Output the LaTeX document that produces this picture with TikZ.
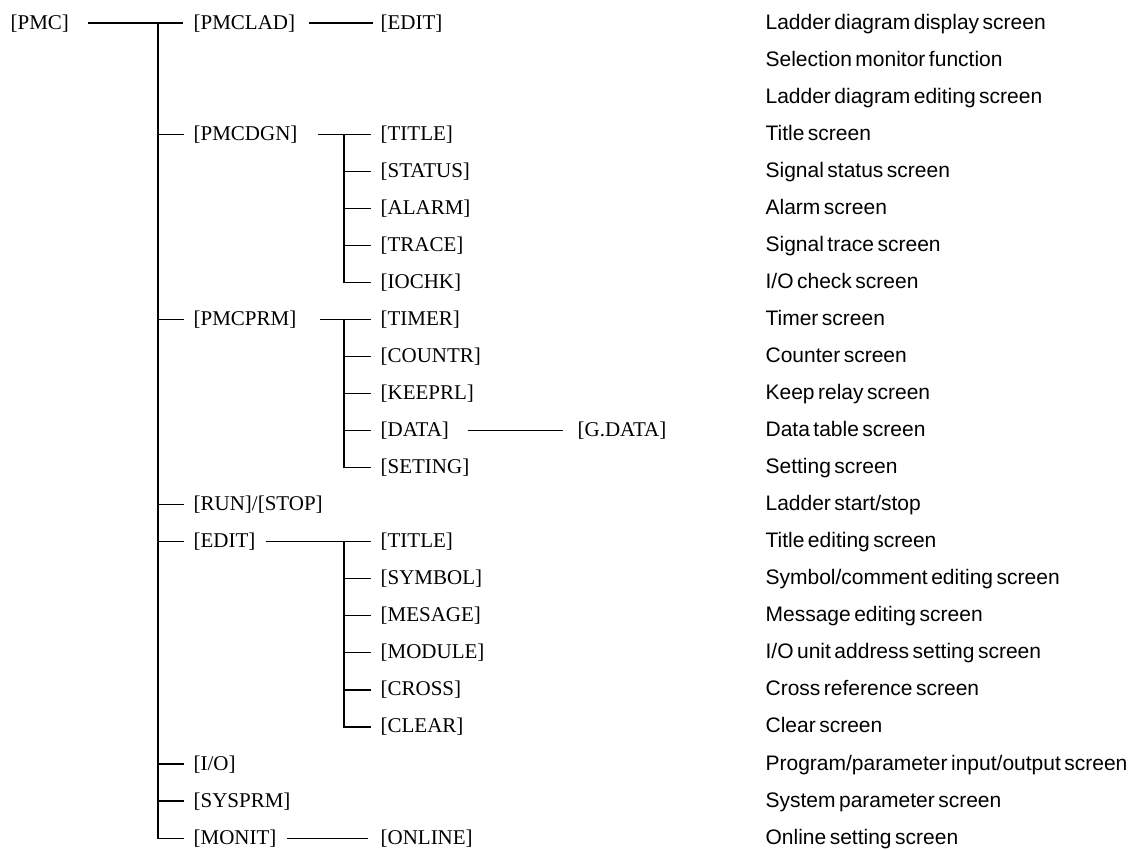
\documentclass[tikz,border=0pt]{standalone}
\usepackage{fontspec}
\setmainfont{Liberation Serif}
\setsansfont[WordSpace=0.6]{Liberation Sans}

\begin{document}
\begin{tikzpicture}[x=0.5pt, y=-18.525pt, line width=0.6pt,
    key/.style={anchor=west, inner sep=0pt, font=\fontsize{10.5}{12}\selectfont,
      text height=8.5pt, text depth=2.5pt},
    desc/.style={anchor=west, inner sep=0pt, font=\sffamily\fontsize{10.5}{12}\selectfont,
      text height=8.5pt, text depth=2.5pt},
    twig/.style={shorten >=4.5pt}]
    \useasboundingbox (0,-0.621) rectangle (1139,22.321);

    % soft keys
    \node[key] (pmc) at (10,0) {[PMC]};
    \node[key] (pmclad) at (193,0) {[PMCLAD]};
    \node[key] (ladedit) at (380,0) {[EDIT]};
    \node[key] (pmcdgn) at (193,3) {[PMCDGN]};
    \node[key] (dgntitle) at (380,3) {[TITLE]};
    \node[key] (status) at (380,4) {[STATUS]};
    \node[key] (alarm) at (380,5) {[ALARM]};
    \node[key] (trace) at (380,6) {[TRACE]};
    \node[key] (iochk) at (380,7) {[IOCHK]};
    \node[key] (pmcprm) at (193,8) {[PMCPRM]};
    \node[key] (timer) at (380,8) {[TIMER]};
    \node[key] (countr) at (380,9) {[COUNTR]};
    \node[key] (keeprl) at (380,10) {[KEEPRL]};
    \node[key] (data) at (380,11) {[DATA]};
    \node[key] (gdata) at (577,11) {[G.DATA]};
    \node[key] (seting) at (380,12) {[SETING]};
    \node[key] (runstop) at (193,13) {[RUN]/[STOP]};
    \node[key] (edit) at (193,14) {[EDIT]};
    \node[key] (edittitle) at (380,14) {[TITLE]};
    \node[key] (symbol) at (380,15) {[SYMBOL]};
    \node[key] (mesage) at (380,16) {[MESAGE]};
    \node[key] (module) at (380,17) {[MODULE]};
    \node[key] (cross) at (380,18) {[CROSS]};
    \node[key] (clear) at (380,19) {[CLEAR]};
    \node[key] (io) at (193,20) {[I/O]};
    \node[key] (sysprm) at (193,21) {[SYSPRM]};
    \node[key] (monit) at (193,22) {[MONIT]};
    \node[key] (online) at (380,22) {[ONLINE]};

    % screens
    \node[desc] (d0) at (765,0) {Ladder diagram display screen};
    \node[desc] (d1) at (765,1) {Selection monitor function};
    \node[desc] (d2) at (765,2) {Ladder diagram editing screen};
    \node[desc] (d3) at (765,3) {Title screen};
    \node[desc] (d4) at (765,4) {Signal status screen};
    \node[desc] (d5) at (765,5) {Alarm screen};
    \node[desc] (d6) at (765,6) {Signal trace screen};
    \node[desc] (d7) at (765,7) {I/O check screen};
    \node[desc] (d8) at (765,8) {Timer screen};
    \node[desc] (d9) at (765,9) {Counter screen};
    \node[desc] (d10) at (765,10) {Keep relay screen};
    \node[desc] (d11) at (765,11) {Data table screen};
    \node[desc] (d12) at (765,12) {Setting screen};
    \node[desc] (d13) at (765,13) {Ladder start/stop};
    \node[desc] (d14) at (765,14) {Title editing screen};
    \node[desc] (d15) at (765,15) {Symbol/comment editing screen};
    \node[desc] (d16) at (765,16) {Message editing screen};
    \node[desc] (d17) at (765,17) {I/O unit address setting screen};
    \node[desc] (d18) at (765,18) {Cross reference screen};
    \node[desc] (d19) at (765,19) {Clear screen};
    \node[desc] (d20) at (765,20) {Program/parameter input/output screen};
    \node[desc] (d21) at (765,21) {System parameter screen};
    \node[desc] (d22) at (765,22) {Online setting screen};

    % main trunk
    \coordinate (j0) at (158,0);
    \draw[shorten <=9pt, shorten >=5pt] (pmc) -- (pmclad);
    \draw[shorten <=6.5pt, shorten >=3.5pt] (pmclad) -- (ladedit);
    \draw[twig] (j0) |- (monit);
    \draw[twig] (j0 |- pmcdgn) -- (pmcdgn);
    \draw[twig] (j0 |- pmcprm) -- (pmcprm);
    \draw[twig] (j0 |- runstop) -- (runstop);
    \draw[twig] (j0 |- edit) -- (edit);
    \draw[twig] (j0 |- io) -- (io);
    \draw[twig] (j0 |- sysprm) -- (sysprm);

    % PMCDGN
    \coordinate (j1) at (344,3);
    \draw[shorten <=10pt, twig] (pmcdgn) -- (dgntitle);
    \draw[twig] (j1) |- (iochk);
    \draw[twig] (j1 |- status) -- (status);
    \draw[twig] (j1 |- alarm) -- (alarm);
    \draw[twig] (j1 |- trace) -- (trace);

    % PMCPRM
    \coordinate (j2) at (344,8);
    \draw[shorten <=11.5pt, twig] (pmcprm) -- (timer);
    \draw[twig] (j2) |- (seting);
    \draw[twig] (j2 |- countr) -- (countr);
    \draw[twig] (j2 |- keeprl) -- (keeprl);
    \draw[twig] (j2 |- data) -- (data);
    \draw[shorten <=9pt, shorten >=7pt] (data) -- (gdata);

    % EDIT
    \coordinate (j3) at (344,14);
    \draw[shorten <=5pt, twig] (edit) -- (edittitle);
    \draw[twig] (j3) |- (clear);
    \draw[twig] (j3 |- symbol) -- (symbol);
    \draw[twig] (j3 |- mesage) -- (mesage);
    \draw[twig] (j3 |- module) -- (module);
    \draw[twig] (j3 |- cross) -- (cross);

    % MONIT
    \draw[shorten <=5pt, shorten >=6pt] (monit) -- (online);
\end{tikzpicture}
\end{document}
